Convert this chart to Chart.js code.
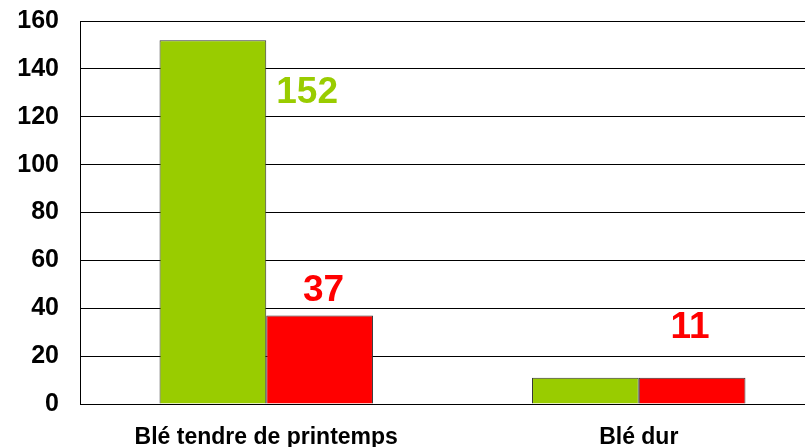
<!DOCTYPE html>
<html>
<head>
<meta charset="utf-8">
<script src="https://cdn.jsdelivr.net/npm/chart.js@4"></script>
<style>
  html, body { margin: 0; padding: 0; background: #fff; overflow: hidden; }
  #wrap { width: 825px; height: 447px; }
</style>
</head>
<body>
<div id="wrap"><canvas id="ble_chart" width="825" height="447"></canvas></div>
<script>
(function () {
    "use strict";

    // data
    const categories = ["Blé tendre de printemps", "Blé dur"];
    const greenValues = [152, 11];
    const redValues = [37, 11];
    const yTicks = [0, 20, 40, 60, 80, 100, 120, 140, 160];

    // which value labels show, and where (dataset-index, point-index)
    const labelSpots = {
        "0-0": { side: "right", dx: 10, dy: 53 },
        "1-0": { side: "top", dx: 4, dy: -25 },
        "1-1": { side: "top", dx: -2, dy: -50 }
    };

    const valueLabels = {
        id: "valueLabels",
        afterDatasetsDraw(chart) {
            const c = chart.ctx;
            c.save();
            c.font = "bold 37px 'Liberation Sans', Arial, sans-serif";
            c.textBaseline = "middle";
            chart.data.datasets.forEach((ds, i) => {
                chart.getDatasetMeta(i).data.forEach((bar, j) => {
                    const spot = labelSpots[i + "-" + j];
                    if (!spot) return;
                    c.fillStyle = ds.backgroundColor;
                    if (spot.side === "right") {
                        c.textAlign = "left";
                        c.fillText(ds.data[j], bar.x + bar.width / 2 + spot.dx, bar.y + spot.dy);
                    } else {
                        c.textAlign = "center";
                        c.fillText(ds.data[j], bar.x + spot.dx, bar.y + spot.dy);
                    }
                });
            });
            c.restore();
        }
    };

    const ctx = document.getElementById("ble_chart").getContext("2d");

    new Chart(ctx, {
        type: "bar",
        data: {
            labels: categories,
            datasets: [{
                data: greenValues,
                backgroundColor: "#99CC00",
                borderColor: "#333333",
                borderWidth: 1,
                categoryPercentage: 0.573,
                barPercentage: 1
            }, {
                data: redValues,
                backgroundColor: "#FF0000",
                borderColor: "#333333",
                borderWidth: 1,
                categoryPercentage: 0.573,
                barPercentage: 1
            }]
        },
        options: {
            responsive: false,
            animation: false,
            layout: { padding: { top: 21, left: 0, right: 0, bottom: 0 } },
            plugins: {
                legend: { display: false },
                tooltip: { enabled: false }
            },
            scales: {
                x: {
                    afterFit(axis) { axis.height = 43; },
                    grid: { display: false },
                    border: { color: "#000", width: 1 },
                    ticks: {
                        color: "#000",
                        padding: 12,
                        font: { family: "'Liberation Sans', Arial, sans-serif", size: 23, weight: "bold" }
                    }
                },
                y: {
                    min: 0,
                    max: 160,
                    afterBuildTicks(axis) {
                        axis.ticks = yTicks.map(v => ({ value: v }));
                    },
                    afterFit(axis) {
                        axis.width = 80;
                        axis.paddingTop = 0;
                        axis.paddingBottom = 0;
                    },
                    grid: { color: "#000", lineWidth: 1, drawTicks: false },
                    border: { color: "#000", width: 1 },
                    ticks: {
                        color: "#000",
                        padding: 21,
                        font: { family: "'Liberation Sans', Arial, sans-serif", size: 25, weight: "bold", lineHeight: 1 }
                    }
                }
            }
        },
        plugins: [valueLabels]
    });
})();
</script>
</body>
</html>
